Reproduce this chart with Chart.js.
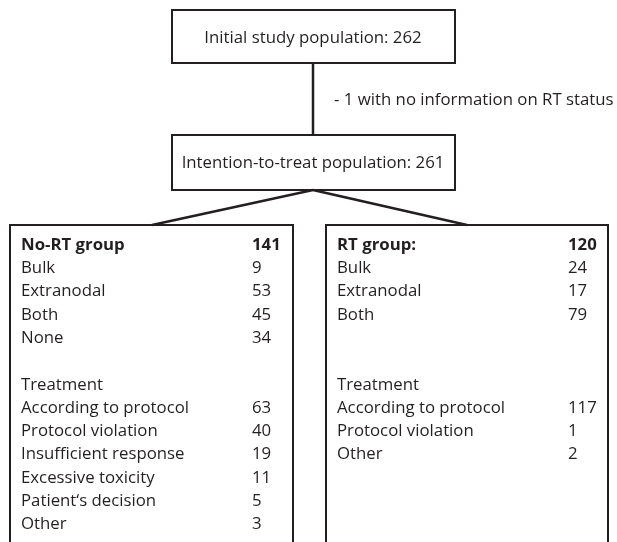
<!DOCTYPE html>
<html lang="en">
<head>
<meta charset="UTF-8" />
<title>Flow chart</title>
<style>
    * { margin: 0; padding: 0; }
    body { background: #fff; }
    .chartBox { width: 617px; height: 542px; }
</style>
</head>
<body>
<div class="chartBox"><canvas id="myChart"></canvas></div>
<script src="https://cdn.jsdelivr.net/npm/chart.js@4/dist/chart.umd.min.js"></script>
<script>
    const topLabel = "Initial study population";
    const topCount = 262;
    const excludedNote = "- 1 with no information on RT status";
    const ittLabel = "Intention-to-treat population";
    const ittCount = 261;

    const groupNames = ["No-RT group", "RT group:"];
    const groupCounts = [141, 120];

    const noRtLabels = ["Bulk", "Extranodal", "Both", "None"];
    const noRtCounts = [9, 53, 45, 34];
    const noRtTreatLabels = ["According to protocol", "Protocol violation", "Insufficient response", "Excessive toxicity", "Patient\u2018s decision", "Other"];
    const noRtTreatCounts = [63, 40, 19, 11, 5, 3];

    const rtLabels = ["Bulk", "Extranodal", "Both"];
    const rtCounts = [24, 17, 79];
    const rtTreatLabels = ["According to protocol", "Protocol violation", "Other"];
    const rtTreatCounts = [117, 1, 2];

    const ink = "#231f20";
    const font = "16.8px 'Open Sans', sans-serif";
    const boldFont = "bold 16.8px 'Open Sans', sans-serif";
    const rowH = 23.3;

    // boxes drawn through the (hidden) x / y scales
    const flowPlugin = {
        id: "flow",
        afterDraw(chart) {
            const c = chart.ctx;
            const X = v => chart.scales.x.getPixelForValue(v);
            const Y = v => chart.scales.y.getPixelForValue(v);
            c.save();
            c.strokeStyle = ink;
            c.fillStyle = ink;
            c.textBaseline = "middle";

            function box(x1, y1, x2, y2) {
                c.lineWidth = 2;
                c.strokeRect(X(x1), Y(y1), X(x2) - X(x1), Y(y2) - Y(y1));
            }
            function line(x1, y1, x2, y2) {
                c.lineWidth = 2.5;
                c.beginPath();
                c.moveTo(X(x1), Y(y1));
                c.lineTo(X(x2), Y(y2));
                c.stroke();
            }
            function text(t, x, y, align, f) {
                c.font = f || font;
                c.textAlign = align || "left";
                c.fillText(t, X(x), Y(y));
            }

            box(172, 10, 455, 63);
            text(topLabel + ": " + topCount, 313, 38, "center");
            line(313, 63, 313, 135);
            text(excludedNote, 334, 100);
            box(172, 135, 455, 190);
            text(ittLabel + ": " + ittCount, 313, 163, "center");
            line(313, 190, 152, 225);
            line(313, 190, 467, 225);

            box(10, 225, 293, 560);
            box(326, 225, 608, 560);

            function group(lx, vx, name, count, labels, counts, tLabels, tCounts) {
                let y = 245;
                text(name, lx, y, "left", boldFont);
                text(String(count), vx, y, "left", boldFont);
                labels.forEach((l, i) => {
                    y = 245 + rowH * (i + 1);
                    text(l, lx, y);
                    text(String(counts[i]), vx, y);
                });
                let ty = 245 + rowH * 6;
                text("Treatment", lx, ty);
                tLabels.forEach((l, i) => {
                    const yy = ty + rowH * (i + 1);
                    text(l, lx, yy);
                    text(String(tCounts[i]), vx, yy);
                });
            }
            group(21, 252, groupNames[0], groupCounts[0], noRtLabels, noRtCounts, noRtTreatLabels, noRtTreatCounts);
            group(337, 568, groupNames[1], groupCounts[1], rtLabels, rtCounts, rtTreatLabels, rtTreatCounts);
            c.restore();
        }
    };

    const config = {
        type: "scatter",
        data: { datasets: [{ data: [], pointRadius: 0 }] },
        options: {
            responsive: true,
            maintainAspectRatio: false,
            animation: false,
            layout: { padding: 0 },
            scales: {
                x: { display: false, min: 0, max: 617 },
                y: { display: false, min: 0, max: 542, reverse: true }
            },
            plugins: { legend: { display: false }, tooltip: { enabled: false } }
        },
        plugins: [flowPlugin]
    };

    const ctx = document.getElementById("myChart").getContext("2d");
    const myChart = new Chart(ctx, config);
</script>
</body>
</html>
